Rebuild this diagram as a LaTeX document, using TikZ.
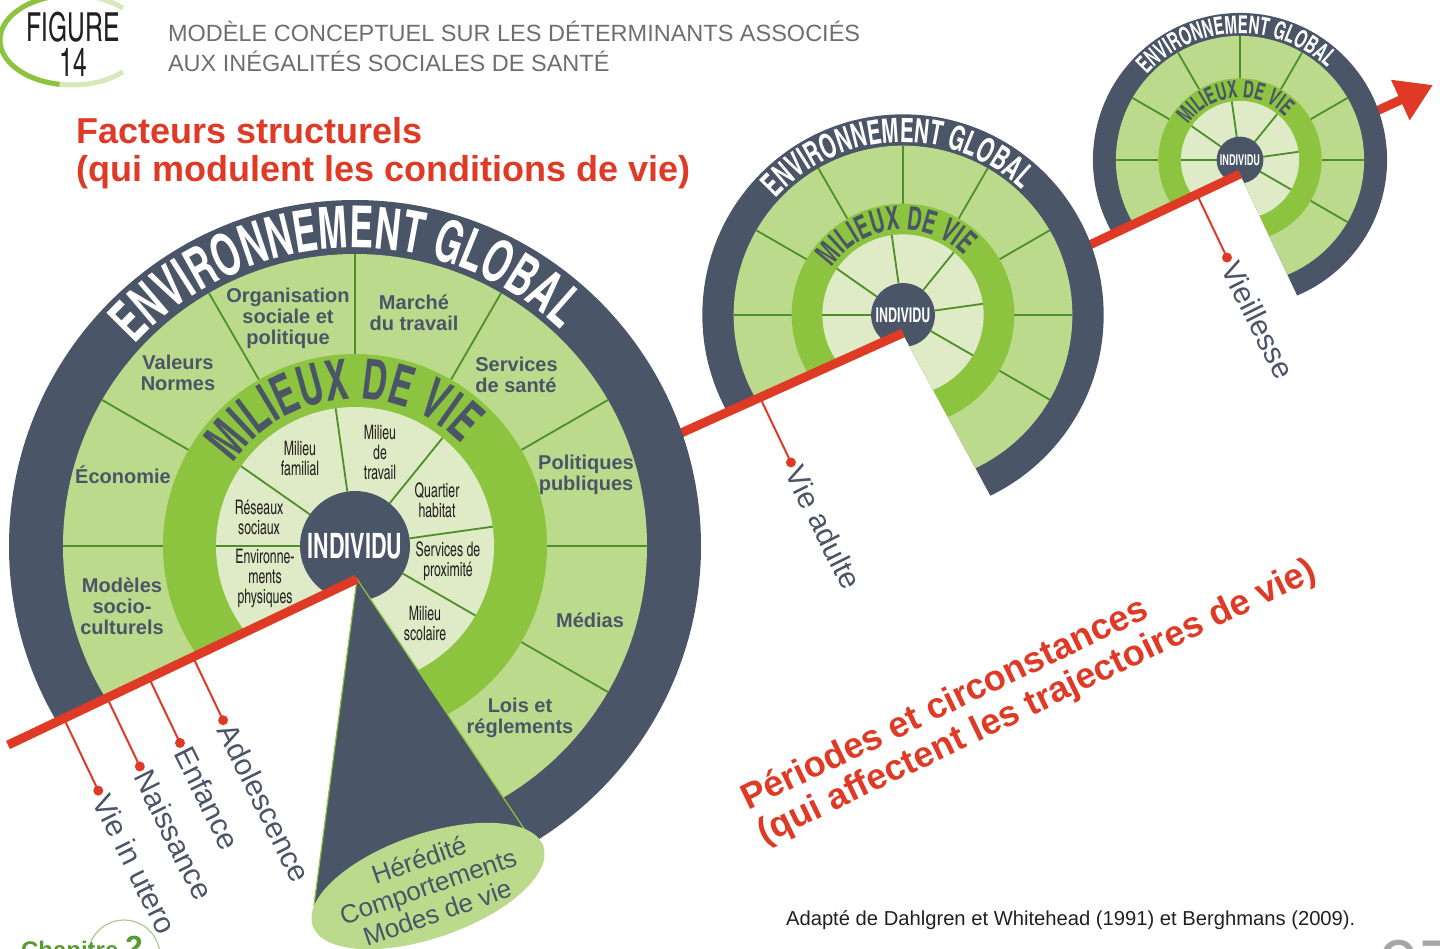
\documentclass[tikz,border=0pt]{standalone}
\usepackage{fontspec}
\setmainfont{Liberation Sans}
\newfontfamily\cnfont[Extension=.otf, UprightFont=*-regular, BoldFont=*-bold, FakeStretch=0.75]{texgyreheroscn}
\usetikzlibrary{decorations.text, shapes.geometric, arrows.meta, calc}

\definecolor{slate}{HTML}{4B5568}
\definecolor{envgreen}{HTML}{BCDA8B}
\definecolor{mvgreen}{HTML}{8CC43F}
\definecolor{palegreen}{HTML}{DEEBC6}
\definecolor{secgreen}{HTML}{4E8F2A}
\definecolor{lifered}{HTML}{DF3A26}
\definecolor{titlegray}{HTML}{6D6E71}
\definecolor{inktext}{HTML}{231F20}
\definecolor{chapgreen}{HTML}{5A9A32}

\newcommand{\ringfontEnv}{\cnfont\bfseries\fontsize{\envsize}{\envsize}\selectfont\color{white}}
\newcommand{\ringfontMv}{\cnfont\bfseries\fontsize{\mvsize}{\mvsize}\selectfont\color{slate}}

% one wheel: centre x, centre y, scale, angle of the cut, name
\newcommand{\lifewheel}[5]{%
  \pgfmathsetmacro{\envsize}{29*#3}%
  \pgfmathsetmacro{\mvsize}{28*#3}%
  \begin{scope}[shift={(#1,-#2)}, scale=#3, transform shape]
    \begin{scope}
      \clip (0,-33) -- ++(#4:700) -- (700,-700) -- (700,700) -- (-700,700) -- (-700,-359) -- cycle;
      \fill[slate] (0,0) circle (346);
      \fill[envgreen] (0,0) circle (292);
      \foreach \a in {-30,0,...,180} \draw[secline] (\a:192) -- (\a:292);
      \fill[mvgreen] (0,0) circle (192);
      \fill[palegreen] (0,0) circle (139);
      \foreach \a in {-30,8,51,98,145,180} \draw[secline] (\a:55) -- (\a:139);
      \fill[slate] (0,0) circle (55);
    \end{scope}
    \path[decorate, decoration={text along path, text align=center,
      text={|\ringfontEnv|ENVIRONNEMENT GLOBAL}}]
      (150:298) arc[start angle=150, end angle=34, radius=298];
    \path[decorate, decoration={text along path, text align=center,
      text={|\ringfontMv|MILIEUX DE VIE}}]
      (160:147) arc[start angle=160, end angle=30, radius=147];
    \node[text=white, font=\cnfont\bfseries\fontsize{17.5}{17.5}\selectfont] (#5-indiv) at (0,0) {INDIVIDU};
  \end{scope}}

\begin{document}
\begin{tikzpicture}[x=0.5pt, y=0.5pt,
  secline/.style={draw=secgreen, line width=0.9pt},
  envlabel/.style={text=slate, font=\bfseries\fontsize{10}{10.5}\selectfont, align=center, inner sep=0pt},
  mvlabel/.style={text=inktext, font=\cnfont\fontsize{10}{10}\selectfont, align=center, inner sep=0pt},
  lifeline/.style={draw=lifered, line width=4.5pt},
  stem/.style={draw=lifered, line width=1pt},
  stemdot/.style={circle, fill=lifered, inner sep=0pt, minimum size=5pt},
  stage/.style={text=slate, font=\fontsize{15}{15}\selectfont, anchor=west, rotate=-63.5, inner sep=3pt}]

\useasboundingbox (0,0) rectangle (1440,-948);

% header
\draw[envgreen!60, line width=2.5pt] (72,-40) ++(45:72 and 45) arc[start angle=45, end angle=315, x radius=72, y radius=45];
\draw[mvgreen, line width=2.5pt] (72,-40) ++(100:72 and 45) arc[start angle=100, end angle=260, x radius=72, y radius=45];
\node[text=inktext, font=\cnfont\fontsize{20}{17.5}\selectfont, align=center] (figno) at (73,-44) {FIGURE\\14};
\node[anchor=west, text=titlegray, font=\fontsize{11.75}{15}\selectfont, align=left] (title) at (161,-46)
  {MODÈLE CONCEPTUEL SUR LES DÉTERMINANTS ASSOCIÉS\\AUX INÉGALITÉS SOCIALES DE SANTÉ};
\node[anchor=west, text=lifered, font=\bfseries\fontsize{18}{19}\selectfont, align=left] (structurels) at (69,-153)
  {Facteurs structurels\\(qui modulent les conditions de vie)};

% life course line
\coordinate (start) at (8,-745);
\coordinate (apexA) at (357,-579);
\coordinate (apexB) at (903,-333);
\coordinate (apexC) at (1240,-174);
\coordinate (tip) at (1433,-85);

\draw[lifeline, -{Triangle[length=18pt, width=21pt]}] (apexC) -- (tip);
\lifewheel{1240}{160}{0.425}{-64.8}{old}
\draw[lifeline] (apexB) -- (apexC);
\lifewheel{903}{315}{0.58}{-61.6}{adult}
\draw[lifeline] (apexA) -- (apexB);
\lifewheel{355}{546}{1}{-56.3}{main}

% cone and personal factors
\coordinate (coneL) at (314,-905);
\coordinate (coneR) at (535,-845);
\filldraw[fill=slate, draw=mvgreen, line width=0.6pt] (apexA) -- (coneL) -- (coneR) -- cycle;
\node[ellipse, fill=envgreen, minimum width=122pt, minimum height=52pt, rotate=19, inner sep=0pt] (hered) at (428,-886) {};
\node[rotate=19, text=slate, font=\fontsize{13}{14}\selectfont, align=center] (heredtxt) at (hered.center)
  {Hérédité\\Comportements\\Modes de vie};

% global environment
\node[envlabel] (org) at (288,-318) {Organisation\\sociale et\\politique};
\node[envlabel] (marche) at (414,-313) {Marché\\du travail};
\node[envlabel] (valeurs) at (178,-373) {Valeurs\\Normes};
\node[envlabel, anchor=west, align=left] (sante) at (475,-375) {Services\\de santé};
\node[envlabel] (eco) at (123,-475) {Économie};
\node[envlabel] (polpub) at (586,-475) {Politiques\\publiques};
\node[envlabel] (modeles) at (122,-606) {Modèles\\socio-\\culturels};
\node[envlabel] (medias) at (590,-620) {Médias};
\node[envlabel] (lois) at (520,-718) {Lois et\\réglements};

% living conditions
\node[mvlabel] (familial) at (300,-458) {Milieu\\familial};
\node[mvlabel] (travail) at (380,-452) {Milieu\\de\\travail};
\node[mvlabel] (quartier) at (437,-500) {Quartier\\habitat};
\node[mvlabel] (reseaux) at (259,-517) {Réseaux\\sociaux};
\node[mvlabel] (proxim) at (448,-561) {Services de\\proximité};
\node[mvlabel] (physiq) at (265,-578) {Environne-\\ments\\physiques};
\node[mvlabel] (scolaire) at (425,-623) {Milieu\\scolaire};

\draw[lifeline] (start) -- (apexA);

% life stages
\foreach \nm/\from/\to/\t/\len/\txt in {
  utero/start/apexA/0.160/80/Vie in utero,
  naiss/start/apexA/0.284/76/Naissance,
  enf/start/apexA/0.404/72/Enfance,
  ado/start/apexA/0.530/70/Adolescence,
  adulte/apexA/apexB/0.738/72/Vie adulte,
  vieil/apexB/apexC/0.872/70/Vieillesse}{
  \coordinate (r-\nm) at ($(\from)!\t!(\to)$);
  \node[stemdot] (d-\nm) at ($(r-\nm)+(-64.5:\len)$) {};
  \draw[stem] (r-\nm) -- (d-\nm.center);
  \node[stage] (l-\nm) at (d-\nm.center) {\txt};
}

\node[anchor=west, rotate=25.7, text=lifered, font=\bfseries\fontsize{18}{19}\selectfont, align=left] (periodes) at (746,-822)
  {Périodes et circonstances\\(qui affectent les trajectoires de vie)};
\node[anchor=west, text=inktext, font=\fontsize{10.1}{10}\selectfont] (source) at (779,-920)
  {Adapté de Dahlgren et Whitehead (1991) et Berghmans (2009).};

% page furniture
\draw[envgreen!80!gray, line width=0.6pt] (124,-956) circle (36);
\node[anchor=base west, text=chapgreen, font=\bfseries\fontsize{12}{12}\selectfont] (chap) at (14,-958) {Chapitre {\fontsize{16}{16}\selectfont 2}};
\node[anchor=base west, text=gray!70, font=\fontsize{36}{36}\selectfont] (page) at (1372,-990) {97};
\end{tikzpicture}
\end{document}
